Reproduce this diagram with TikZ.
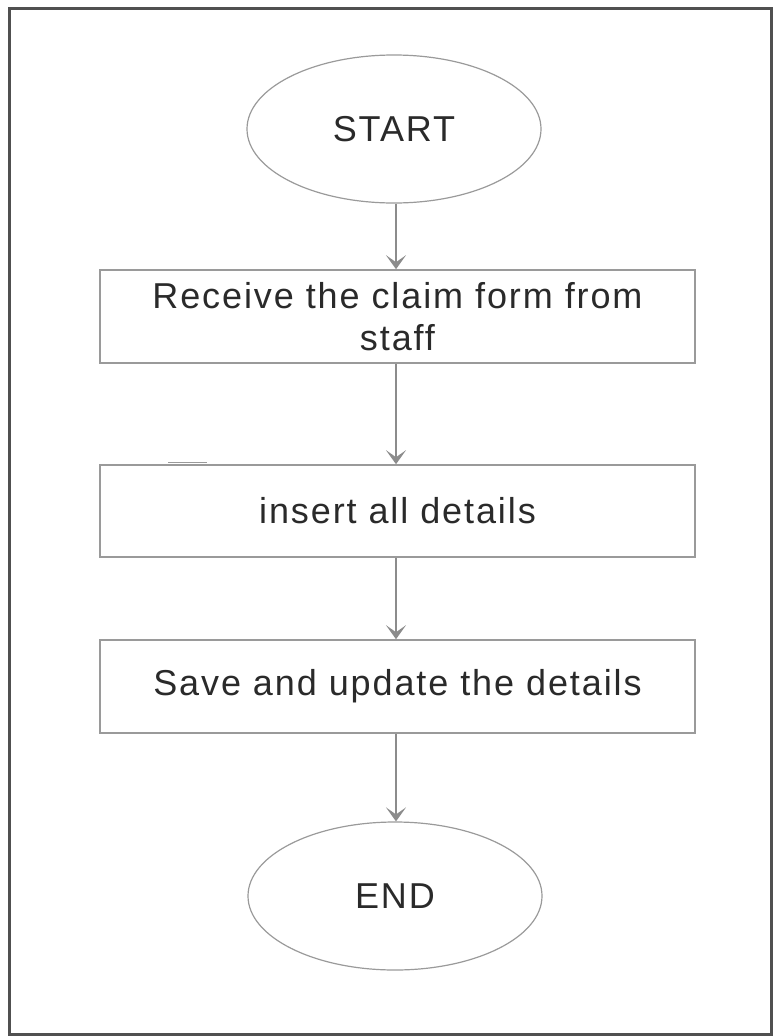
\documentclass[tikz,border=0pt]{standalone}
\usepackage{fontspec}
\setmainfont{Liberation Sans}[LetterSpace=5.3]
\usetikzlibrary{shapes.geometric,arrows.meta}
\definecolor{framec}{HTML}{505050}
\definecolor{boxc}{HTML}{9A9A9A}
\definecolor{arrc}{HTML}{8C8C8C}
\definecolor{txtc}{HTML}{2A2A2A}
\tikzset{
  terminal/.style={ellipse, draw=boxc, line width=1.2pt, minimum width=294pt, minimum height=148pt, inner sep=0pt, text=txtc, font=\fontsize{36}{42}\selectfont},
  procbox/.style={rectangle, draw=boxc, line width=1.6pt, minimum width=595pt, inner sep=0pt, align=center, text=txtc, font=\fontsize{36}{42}\selectfont},
  flow/.style={draw=arrc, line width=1.8pt, -{Stealth[length=14pt,width=20pt,inset=7pt]}}
}
\begin{document}
\begin{tikzpicture}[x=1pt,y=-1pt]
\useasboundingbox (0,0) rectangle (774,1036);
\draw[framec, line width=3pt] (9,8) rectangle (771,1034);
\node[terminal] (start) at (394,129) {START};
\node[procbox, minimum height=93pt] (recv) at (397.5,316.5) {Receive the claim form from\\staff};
\node[procbox, minimum height=92pt] (ins) at (397.5,511) {insert all details};
\node[procbox, minimum height=93pt] (save) at (397.5,686.5) {Save and update the details};
\node[terminal] (end) at (395,896) {END};
\coordinate (ax) at (396,0);
\draw[flow] (start.south -| ax) -- (recv.north -| ax);
\draw[flow] (recv.south -| ax) -- (ins.north -| ax);
\draw[flow] (ins.south -| ax) -- (save.north -| ax);
\draw[flow] (save.south -| ax) -- (end.north -| ax);
\draw[boxc, line width=1pt] (168,462) -- (207,462);
\end{tikzpicture}
\end{document}
